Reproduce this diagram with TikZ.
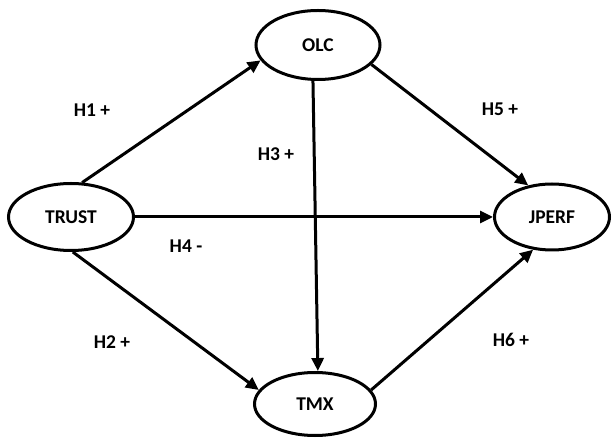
\documentclass[tikz,border=0pt]{standalone}
\usepackage{fontspec}
\setmainfont{Carlito}
\usetikzlibrary{shapes.geometric,arrows.meta}
\begin{document}
\begin{tikzpicture}[x=1pt,y=1pt,
  construct/.style={ellipse, draw=black, line width=3pt, inner sep=0pt,
    font=\fontsize{19.5}{22}\selectfont\bfseries},
  path arrow/.style={line width=3pt, -{Triangle[length=13pt,width=12pt]}},
  hyp/.style={anchor=base, inner sep=0pt, font=\fontsize{19.5}{22}\selectfont\bfseries}]
  \useasboundingbox (0,0) rectangle (613,439);

  % latent constructs
  \node[construct, minimum width=125pt, minimum height=67pt] (trust) at (71,222) {TRUST};
  \node[construct, minimum width=124pt, minimum height=69pt] (olc) at (318,394) {OLC};
  \node[construct, minimum width=115pt, minimum height=66pt] (jperf) at (552,222) {JPERF};
  \node[construct, minimum width=121pt, minimum height=63pt] (tmx) at (315,35) {TMX};

  % hypothesised paths
  \draw[path arrow] (trust.72) -- (olc.195);
  \draw[path arrow] (trust.273) -- (tmx.166);
  \draw[path arrow] (trust.east) -- (jperf.west);
  \draw[path arrow] (olc.262) -- (tmx.85);
  \draw[path arrow] (olc.340) -- (jperf.127);
  \draw[path arrow] (tmx.14) -- (jperf.240);

  % hypothesis labels
  \node[hyp] (h1) at (92,322) {H1 +};
  \node[hyp] (h2) at (112,90) {H2 +};
  \node[hyp] (h3) at (276,278) {H3 +};
  \node[hyp] (h4) at (186,186) {H4 -};
  \node[hyp] (h5) at (500,323) {H5 +};
  \node[hyp] (h6) at (511,92) {H6 +};
\end{tikzpicture}
\end{document}
